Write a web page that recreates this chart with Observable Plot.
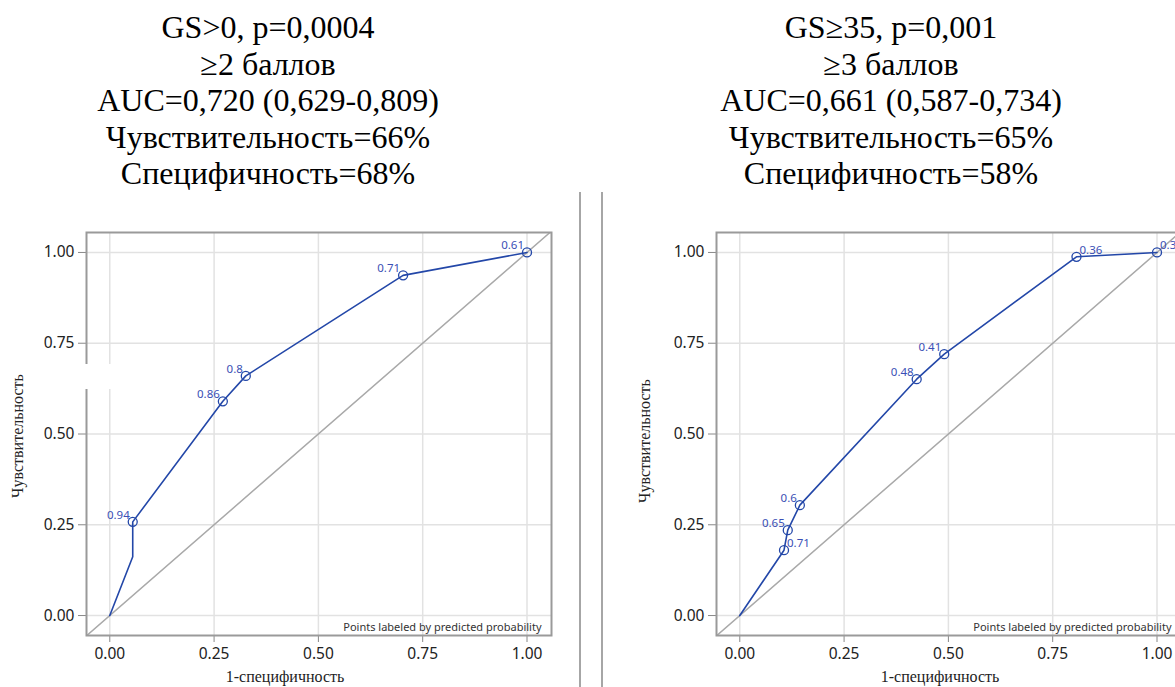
<!DOCTYPE html>
<html>
<head>
<meta charset="utf-8">
<script src="https://cdn.jsdelivr.net/npm/d3@7"></script>
<script src="https://cdn.jsdelivr.net/npm/@observablehq/plot@0.6"></script>
<style>
  html, body { margin: 0; padding: 0; background: #fff; }
  body { width: 1175px; height: 687px; overflow: hidden; position: relative; }
  .title { position: absolute; top: 9px; font-family: "Liberation Serif", "Times New Roman", serif; font-size: 32px; line-height: 36.5px; text-align: center; color: #000; white-space: nowrap; }
  .panel { position: absolute; top: 200px; width: 580px; height: 487px; }
  .panel svg { max-width: none !important; width: 580px; height: 487px; display: block; }
  .xlab { position: absolute; font-family: "Liberation Serif", "Times New Roman", serif; font-size: 16px; color: #222; transform: translate(-50%, -50%); white-space: nowrap; }
  .ylab { position: absolute; font-family: "Liberation Serif", "Times New Roman", serif; font-size: 16px; color: #222; transform: translate(-50%, -50%) rotate(-90deg); white-space: nowrap; }
  .divider { position: absolute; top: 192px; width: 2px; height: 495px; background: #a6a6a6; }
  .gap { position: absolute; background: #fff; }
</style>
</head>
<body>
<script>
// ---- data ----
const leftTitle = ["GS>0, p=0,0004", "≥2 баллов", "AUC=0,720 (0,629-0,809)", "Чувствительность=66%", "Специфичность=68%"];
const rightTitle = ["GS≥35, p=0,001", "≥3 баллов", "AUC=0,661 (0,587-0,734)", "Чувствительность=65%", "Специфичность=58%"];

const leftFpr = [0, 0.055, 0.055, 0.271, 0.326, 0.703, 1];
const leftTpr = [0, 0.162, 0.258, 0.590, 0.660, 0.937, 1];
const leftLabels = [null, null, "0.94", "0.86", "0.8", "0.71", "0.61"];

const rightFpr = [0, 0.106, 0.115, 0.144, 0.424, 0.490, 0.807, 1];
const rightTpr = [0, 0.180, 0.235, 0.304, 0.651, 0.720, 0.988, 1];
const rightLabels = [null, "0.71", "0.65", "0.6", "0.48", "0.41", "0.36", "0.3"];
const rightLabelsOnRight = ["0.71", "0.36", "0.3"];

const tickValues = [0, 0.25, 0.5, 0.75, 1];
const xLabel = "1-специфичность";
const yLabel = "Чувствительность";
const note = "Points labeled by predicted probability";

// ---- layout ----
const xDomain = [-0.0558, 1.0587];
const yDomain = [-0.055, 1.055];
const blue = "#2347a8";
const labelBlue = "#3a4fb5";
const sans = "'Noto Sans', 'Open Sans', sans-serif";

function addTitle(lines, centerX, width) {
  const d = document.createElement("div");
  d.className = "title";
  d.style.left = (centerX - width / 2) + "px";
  d.style.width = width + "px";
  d.innerHTML = lines.map(l => l.replace(/&/g, "&amp;").replace(/</g, "&lt;").replace(/>/g, "&gt;")).join("<br>");
  document.body.appendChild(d);
}

function rocPlot(fpr, tpr, labels, onRight) {
  const pts = fpr.map((x, i) => ({x, y: tpr[i], label: labels[i]}));
  const marked = pts.filter(d => d.label != null);
  const hi = Math.min(xDomain[1], yDomain[1]);
  const diag = [{x: xDomain[0], y: xDomain[0]}, {x: hi, y: hi}];
  const leftLab = marked.filter(d => !onRight.includes(d.label));
  const rightLab = marked.filter(d => onRight.includes(d.label));
  return Plot.plot({
    width: 580,
    height: 487,
    marginLeft: 86,
    marginRight: 29,
    marginTop: 32,
    marginBottom: 52,
    x: {domain: xDomain},
    y: {domain: yDomain},
    style: {fontFamily: sans, fontSize: "15.5px", color: "#222", background: "transparent", overflow: "visible"},
    marks: [
      Plot.gridX(tickValues, {stroke: "#e2e2e2", strokeOpacity: 1, strokeWidth: 1.5}),
      Plot.gridY(tickValues, {stroke: "#e2e2e2", strokeOpacity: 1, strokeWidth: 1.5}),
      Plot.line(diag, {x: "x", y: "y", stroke: "#a9a9a9", strokeWidth: 1.5, clip: true}),
      Plot.line(pts, {x: "x", y: "y", stroke: blue, strokeWidth: 1.6}),
      Plot.dot(marked, {x: "x", y: "y", r: 4.5, stroke: blue, strokeWidth: 1.3, fill: "none"}),
      Plot.text(leftLab, {x: "x", y: "y", text: "label", textAnchor: "end", dx: -3, dy: -7, fill: labelBlue, fontSize: 11.5}),
      Plot.text(rightLab, {x: "x", y: "y", text: "label", textAnchor: "start", dx: 3, dy: -7, fill: labelBlue, fontSize: 11.5}),
      Plot.text([note], {frameAnchor: "bottom-right", dx: -10, dy: -5, fill: "#333", fontSize: 11}),
      Plot.axisX(tickValues, {tickFormat: d3.format(".2f"), tickSize: 7, tickPadding: 5, stroke: "#888", label: null}),
      Plot.axisY(tickValues, {tickFormat: d3.format(".2f"), tickSize: 8, tickPadding: 4, stroke: "#888", label: null}),
      Plot.frame({stroke: "#9a9a9a", strokeWidth: 2})
    ]
  });
}

function addPanel(svg, left) {
  const d = document.createElement("div");
  d.className = "panel";
  d.style.left = left + "px";
  d.appendChild(svg);
  document.body.appendChild(d);
}
function addText(cls, text, x, y) {
  const d = document.createElement("div");
  d.className = cls;
  d.style.left = x + "px";
  d.style.top = y + "px";
  d.textContent = text;
  document.body.appendChild(d);
}

addTitle(leftTitle, 268, 520);
addTitle(rightTitle, 891, 520);

addPanel(rocPlot(leftFpr, leftTpr, leftLabels, []), 0);
addPanel(rocPlot(rightFpr, rightTpr, rightLabels, rightLabelsOnRight), 630);

// white gap on left panel's left border
const gap = document.createElement("div");
gap.className = "gap";
Object.assign(gap.style, {left: "76px", top: "364px", width: "36px", height: "25px"});
document.body.appendChild(gap);

addText("xlab", xLabel, 285, 677);
addText("xlab", xLabel, 940, 677);
addText("ylab", yLabel, 18, 436);
addText("ylab", yLabel, 645, 441);

for (const x of [578.5, 600.5]) {
  const v = document.createElement("div");
  v.className = "divider";
  v.style.left = x + "px";
  document.body.appendChild(v);
}
</script>
</body>
</html>
